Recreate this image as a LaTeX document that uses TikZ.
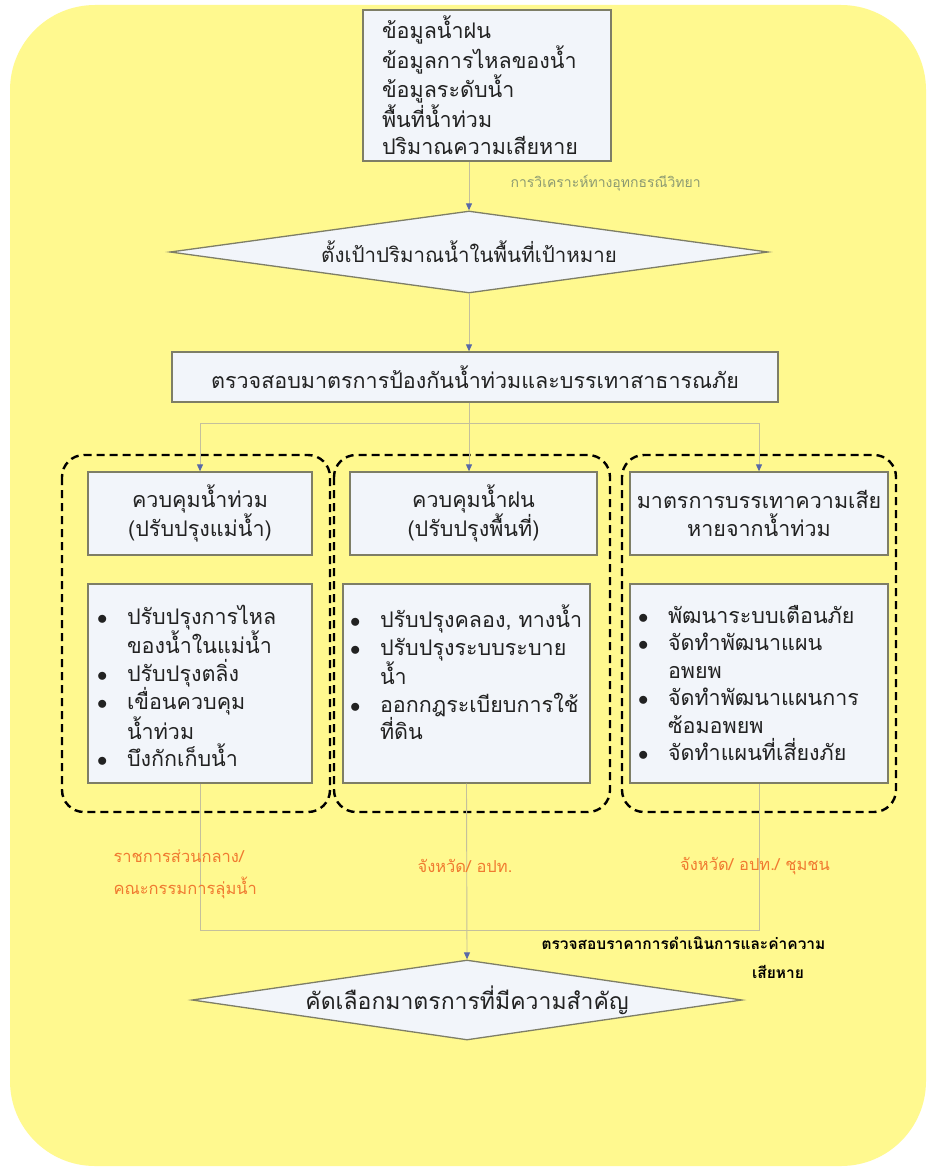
\documentclass[tikz,border=0pt]{standalone}
\usepackage{fontspec}
\newfontfamily\thaifont[Script=Thai]{Loma}
\usetikzlibrary{shapes.geometric}
\usetikzlibrary{arrows.meta, positioning}

\definecolor{bgyellow}{HTML}{FFF98F}
\definecolor{boxfill}{HTML}{F2F5FA}
\definecolor{boxline}{HTML}{7E7E66}
\definecolor{linkline}{HTML}{C4C09C}
\definecolor{tipblue}{HTML}{5868A8}
\definecolor{textgrey}{HTML}{222222}
\definecolor{labelorange}{HTML}{F07A30}
\definecolor{labelgreen}{HTML}{8C9A72}

\newcommand{\bitem}{\makebox[30pt][l]{$\bullet$}}
\newcommand{\bskip}{\hspace*{30pt}}

\begin{document}
\begin{tikzpicture}[x=1pt, y=-1pt,
    every node/.style={font=\thaifont\fontsize{21.5}{27.5}\selectfont, text=textgrey},
    infobox/.style={draw=boxline, fill=boxfill, line width=1.3pt, inner sep=0pt},
    decision/.style={diamond, draw=boxline, fill=boxfill, line width=1.3pt, inner sep=0pt},
    groupbox/.style={draw=black, line width=2.4pt, dash pattern=on 8pt off 5pt, rounded corners=22pt},
    link/.style={draw=linkline, line width=0.9pt},
    flow/.style={link, -{Triangle[length=7pt, width=6pt, color=tipblue, fill=tipblue]}},
    note/.style={font=\thaifont\fontsize{14}{16}\selectfont},
    orgnote/.style={font=\thaifont\fontsize{16.5}{32}\selectfont, text=labelorange},
    costnote/.style={font=\thaifont\bfseries\fontsize{15.5}{18}\selectfont, text=black}
  ]
  \useasboundingbox (0,0) rectangle (929,1169);
  \fill[white] (0,0) rectangle (929,1169);
  \fill[bgyellow, rounded corners=85pt] (10,5) rectangle (926,1166);

  % dashed groups
  \draw[groupbox] (62,455) rectangle (330,812);
  \draw[groupbox] (334,455) rectangle (610,812);
  \draw[groupbox] (622,455) rectangle (896,812);

  \node[infobox, minimum width=248pt, minimum height=151pt, text width=210pt, align=left] (data) at (487,85.5)
    {ข้อมูลน้ำฝน\\ข้อมูลการไหลของน้ำ\\ข้อมูลระดับน้ำ\\พื้นที่น้ำท่วม\\ปริมาณความเสียหาย};
  \node[decision, aspect=7.3, minimum width=598pt, minimum height=82pt, font=\thaifont\fontsize{20.5}{24}\selectfont] (target) at (469,252)
    {ตั้งเป้าปริมาณน้ำในพื้นที่เป้าหมาย};
  \node[infobox, minimum width=606pt, minimum height=50pt] (check) at (475,377)
    {ตรวจสอบมาตรการป้องกันน้ำท่วมและบรรเทาสาธารณภัย};

  \node[infobox, minimum width=224pt, minimum height=83pt, align=center] (flood) at (200,513.5)
    {ควบคุมน้ำท่วม\\(ปรับปรุงแม่น้ำ)};
  \node[infobox, minimum width=247pt, minimum height=83pt, align=center] (rain) at (473.5,513.5)
    {ควบคุมน้ำฝน\\(ปรับปรุงพื้นที่)};
  \node[infobox, minimum width=258pt, minimum height=83pt, align=center] (relief) at (759,513.5)
    {มาตรการบรรเทาความเสีย\\หายจากน้ำท่วม};

  \node[infobox, minimum width=224pt, minimum height=199pt] (floodlist) at (200,683.5)
    {\parbox[c][157pt][t]{206pt}{\bitem ปรับปรุงการไหล\\\bskip ของน้ำในแม่น้ำ\\\bitem ปรับปรุงตลิ่ง\\\bitem เขื่อนควบคุม\\\bskip น้ำท่วม\\\bitem บึงกักเก็บน้ำ}};
  \node[infobox, minimum width=247pt, minimum height=199pt] (rainlist) at (466.5,683.5)
    {\parbox[c][157pt][t]{233pt}{\bitem ปรับปรุงคลอง, ทางน้ำ\\\bitem ปรับปรุงระบบระบาย\\\bskip น้ำ\\\bitem ออกกฎระเบียบการใช้\\\bskip ที่ดิน}};
  \node[infobox, minimum width=258pt, minimum height=199pt] (relieflist) at (759,683.5)
    {\parbox[c][157pt][t]{242pt}{\bitem พัฒนาระบบเตือนภัย\\\bitem จัดทำพัฒนาแผน\\\bskip อพยพ\\\bitem จัดทำพัฒนาแผนการ\\\bskip ซ้อมอพยพ\\\bitem จัดทำแผนที่เสี่ยงภัย}};

  \node[decision, aspect=6.9, minimum width=550pt, minimum height=80pt, font=\thaifont\fontsize{23}{26}\selectfont] (final) at (467,1000)
    {คัดเลือกมาตรการที่มีความสำคัญ};

  % connectors
  \coordinate (split) at (469,423);
  \coordinate (merge) at (467,930);
  \draw[flow] (target.north |- data.south) -- (target.north);
  \draw[flow] (target.south) -- (target.south |- check.north);
  \draw[link] (split |- check.south) -- (split);
  \draw[link] (flood.north |- split) -- (relief.north |- split);
  \draw[flow] (flood.north |- split) -- (flood.north);
  \draw[flow] (split) -- (split |- rain.north);
  \draw[flow] (relief.north |- split) -- (relief.north);
  \draw[link] (floodlist.south) -- (floodlist.south |- merge) -- (relieflist.south |- merge) -- (relieflist.south);
  \draw[flow] (rainlist.south) -- (final.north);

  % labels
  \node[note, text=labelgreen, anchor=west] (hydro) at (507,183) {การวิเคราะห์ทางอุทกธรณีวิทยา};
  \node[orgnote, anchor=west, align=left] (central) at (110,874) {ราชการส่วนกลาง/\\คณะกรรมการลุ่มน้ำ};
  \node[orgnote] (province) at (465,866) {จังหวัด/ อปท.};
  \node[orgnote] (community) at (755,866) {จังหวัด/ อปท./ ชุมชน};
  \node[costnote, anchor=west] (cost) at (538,943) {ตรวจสอบราคาการดำเนินการและค่าความ};
  \node[costnote] (costend) at (778,972) {เสียหาย};
\end{tikzpicture}
\end{document}
